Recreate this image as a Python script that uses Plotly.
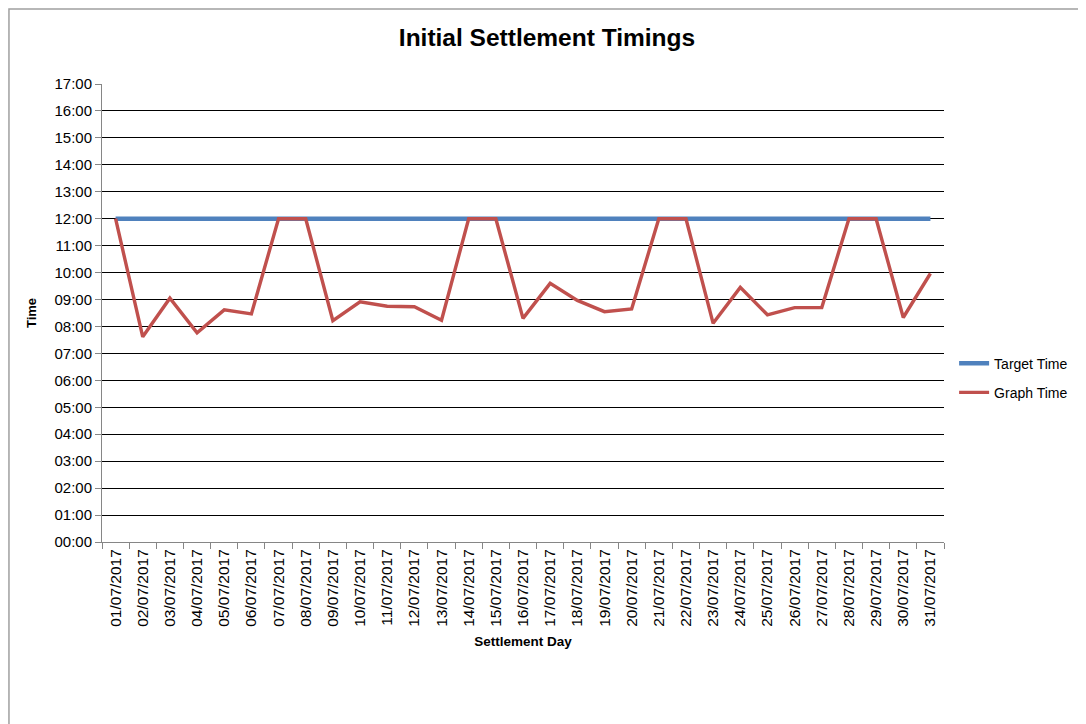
import plotly.graph_objects as go

# Settlement days (July 2017)
days = [f"{d:02d}/07/2017" for d in range(1, 32)]

# Times, HH:MM
target_times = ["12:00"] * 31
graph_times = [
    "12:00", "07:37", "09:03", "07:46", "08:37", "08:28", "12:00", "12:00",
    "08:13", "08:55", "08:45", "08:44", "08:14", "12:00", "12:00", "08:18",
    "09:36", "08:58", "08:33", "08:39", "12:00", "12:00", "08:07", "09:27",
    "08:26", "08:42", "08:42", "12:00", "12:00", "08:20", "09:58",
]

hour_ticks = list(range(0, 18))
hour_labels = [f"{h:02d}:00" for h in hour_ticks]


def to_hours(t):
    h, m = t.split(":")
    return int(h) + int(m) / 60.0


FONT = "Liberation Sans"
GRAY = "#868686"

fig = go.Figure()

fig.add_trace(go.Scatter(
    x=days, y=[to_hours(t) for t in target_times],
    mode="lines", name="Target Time", legendgroup="target",
    line={"color": "#4F81BD", "width": 4.5},
))
fig.add_trace(go.Scatter(
    x=days, y=[to_hours(t) for t in graph_times],
    mode="lines", name="Graph Time", legendgroup="graph",
    line={"color": "#C0504D", "width": 3.4},
))

# outer chart border like the spreadsheet chart area
fig.add_shape(
    type="rect", xref="paper", yref="paper",
    x0=-0.1105, x1=1.1651, y0=-0.45, y1=1.1638,
    line={"color": "#A0A0A0", "width": 1.5}, fillcolor="rgba(0,0,0,0)",
)

# the page adds an 8px body margin, so the figure is a little smaller
fig.update_layout(
    width=1078, height=716,
    paper_bgcolor="white", plot_bgcolor="white",
    margin={"l": 94, "r": 142, "t": 76, "b": 182},
    font={"family": FONT, "size": 13, "color": "#000000"},
    title={
        "text": "<b>Initial Settlement Timings</b>",
        "x": 0.5, "xref": "container", "xanchor": "center",
        "y": 1 - 29 / 716, "yref": "container", "yanchor": "middle",
        "font": {"family": FONT, "size": 24.5, "color": "#000000"},
    },
    xaxis={
        "type": "category",
        "range": [-0.5, 30.5],
        "tickangle": -90,
        "tickson": "boundaries",
        "ticks": "outside", "ticklen": 6, "tickcolor": GRAY, "tickwidth": 1,
        "showline": True, "linecolor": GRAY, "linewidth": 1,
        "showgrid": False, "zeroline": False,
        "tickfont": {"family": FONT, "size": 15.5, "color": "#000000"},
        "title": {"text": "<b>Settlement Day</b>", "standoff": 10,
                  "font": {"family": FONT, "size": 13.5, "color": "#000000"}},
    },
    yaxis={
        "range": [0, 17],
        "tickvals": hour_ticks, "ticktext": hour_labels,
        "ticks": "outside", "ticklen": 6, "tickcolor": GRAY, "tickwidth": 1,
        "showline": True, "linecolor": GRAY, "linewidth": 1,
        "showgrid": True, "gridcolor": "#000000", "gridwidth": 1,
        "zeroline": False,
        "tickfont": {"family": FONT, "size": 15, "color": "#000000"},
        "title": {"text": "<b>Time</b>", "standoff": 14,
                  "font": {"family": FONT, "size": 13, "color": "#000000"}},
    },
    legend={
        "x": 1.012, "xanchor": "left", "y": 0.358, "yanchor": "middle",
        "font": {"family": FONT, "size": 14, "color": "#000000"},
        "bgcolor": "rgba(0,0,0,0)", "tracegroupgap": 8,
    },
    showlegend=True,
)

fig.write_html("out.html")
